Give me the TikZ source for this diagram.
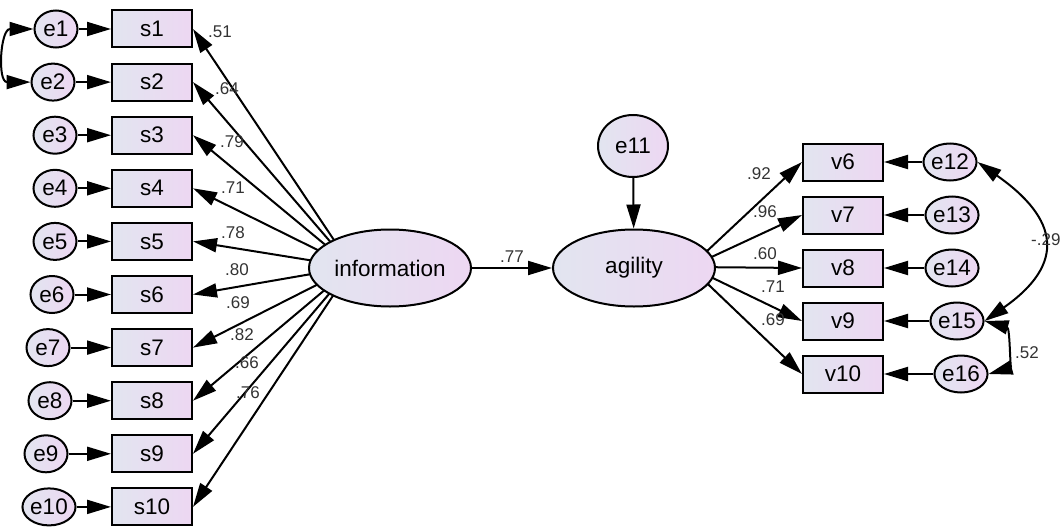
\documentclass[tikz,border=0pt]{standalone}
\usepackage{fontspec}
\setmainfont{Liberation Sans}
\usetikzlibrary{arrows.meta, shapes.geometric, backgrounds}

\definecolor{fillL}{RGB}{226,229,240}
\definecolor{fillR}{RGB}{237,215,242}

\begin{document}
\begin{tikzpicture}[
  x=1pt, y=-1pt,
  >={Triangle[length=24pt,width=14pt]},
  semnode/.style={draw=black, line width=2pt, left color=fillL, right color=fillR,
                  font=\fontsize{22.5}{26}\selectfont, inner sep=0pt},
  obsbox/.style={semnode, rectangle, minimum width=80pt, minimum height=37pt},
  errnode/.style={semnode, ellipse, minimum width=43pt, minimum height=37pt},
  latent/.style={semnode, ellipse, minimum width=162pt, minimum height=77pt},
  load/.style={->, line width=2pt},
  cov/.style={<->, line width=2pt},
  coef/.style={font=\fontsize{17}{20}\selectfont, text=black!80, inner sep=0pt}
]
\useasboundingbox (0,0) rectangle (1064,527);

% Indicators of information
\foreach \i/\ex in {1/56,2/53,3/55,4/55,5/55,6/52,7/48,8/50,9/46,10/49}{
  \node[obsbox]  (s\i) at (152, {29+53.1*(\i-1)}) {s\i};
  \node[errnode] (e\i) at (\ex, {29+53.1*(\i-1)}) {e\i};
  \draw[load] (e\i) -- (s\i);
}

% Latent variables
\node[latent] (info)    at (390,268) {information};
\node[latent] (agility) at (634,268) {agility};
\node[errnode, minimum width=70pt, minimum height=62pt] (e11) at (633,146) {e11};

% Indicators of agility
\foreach \j/\k/\ex in {6/12/950,7/13/952,8/14/952,9/15/957,10/16/961}{
  \node[obsbox]  (v\j) at (843, {162+53*(\j-6)}) {v\j};
  \node[errnode] (e\k) at (\ex, {162+53*(\j-6)}) {e\k};
  \draw[load] (e\k) -- (v\j);
}

% Loadings start inside the ellipses
\coordinate (hubL) at (352,267);
\coordinate (hubR) at (690,267);
\begin{scope}[on background layer]
  \foreach \i in {1,...,10} \draw[load] (hubL) -- (s\i.east);
  \foreach \j in {6,...,10} \draw[load] (hubR) -- (v\j.west);
\end{scope}

\foreach \i/\lx/\ly/\val in {1/220/32/.51, 2/227/89/.64, 3/232/142/.79, 4/233/188/.71,
    5/233/233/.78, 6/237/270/.80, 7/238/303/.69, 8/242/335/.82, 9/247/363/.66, 10/248/393/.76}
  \node[coef] (ls\i) at (\lx,\ly) {\val};
\foreach \j/\lx/\ly/\val in {6/759/174/.92, 7/765/212/.96, 8/765/254/.60, 9/773/287/.71, 10/773/320/.69}
  \node[coef] (lv\j) at (\lx,\ly) {\val};

% Structural path
\draw[load] (info) -- node[coef, above=5pt] (lpath) {.77} (agility);
\draw[load] (e11) -- (agility);

% Covariances
\draw[cov] (e1.west) to[out=180, in=180, looseness=1.6] (e2.west);
\draw[cov] (e12.east) to[out=-35, in=35, looseness=1.6] (e15.east);
\draw[cov] (e15.east) .. controls (1010,328) and (1010,368) .. (e16.east);
\node[coef, anchor=west] (lc1) at (1031,240) {-.29};
\node[coef, anchor=west] (lc2) at (1015,353) {.52};

\end{tikzpicture}
\end{document}
